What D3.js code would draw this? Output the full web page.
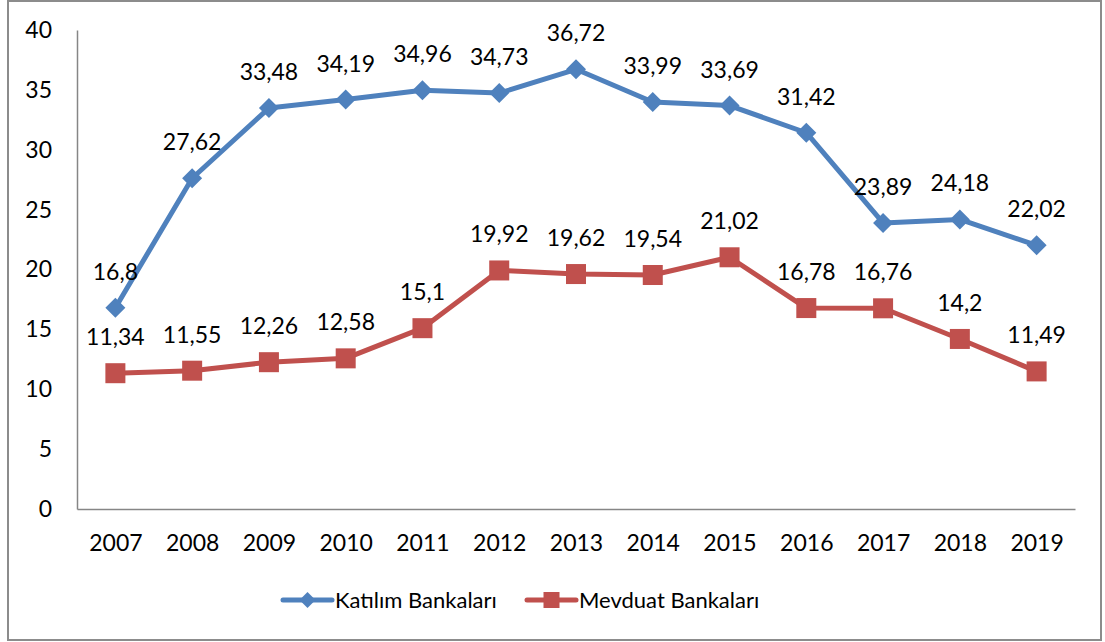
<!DOCTYPE html>
<html>
<head>
<meta charset="utf-8">
<script src="https://cdn.jsdelivr.net/npm/d3@7"></script>
<style>
  body { margin: 0; background: #fff; }
  text { font-family: Lato, "Open Sans", sans-serif; fill: #000; }
</style>
</head>
<body>
<div id="chart"></div>
<script>
// data
var years = ["2007","2008","2009","2010","2011","2012","2013","2014","2015","2016","2017","2018","2019"];
var katilim = [16.8, 27.62, 33.48, 34.19, 34.96, 34.73, 36.72, 33.99, 33.69, 31.42, 23.89, 24.18, 22.02];
var mevduat = [11.34, 11.55, 12.26, 12.58, 15.1, 19.92, 19.62, 19.54, 21.02, 16.78, 16.76, 14.2, 11.49];
var yTicks = [0, 5, 10, 15, 20, 25, 30, 35, 40];
var seriesNames = ["Katılım Bankaları", "Mevduat Bankaları"];

var W = 1105, H = 642;
var margin = {top: 30, right: 30, bottom: 133, left: 77},
    width = 1075 - margin.left,
    height = 509 - margin.top;

var svg = d3.select("#chart")
  .append("svg")
    .attr("width", W)
    .attr("height", H);

// outer frame
svg.append("rect")
    .attr("x", 8)
    .attr("y", 1)
    .attr("width", 1093)
    .attr("height", 639)
    .attr("fill", "none")
    .attr("stroke", "#8c8c8c")
    .attr("stroke-width", 2);

var chartGroup = svg.append("g")
    .attr("transform", "translate(" + margin.left + "," + margin.top + ")");

var x = d3.scalePoint()
    .domain(years)
    .range([0, width])
    .padding(0.5);

var y = d3.scaleLinear()
    .domain([0, 40])
    .range([height, 0]);

// y axis
var yAxis = chartGroup.append("g")
    .call(d3.axisLeft(y).tickValues(yTicks).tickSize(0).tickPadding(25));
yAxis.select(".domain").attr("stroke", "#868686").attr("stroke-width", 1.5);
yAxis.selectAll("text")
    .attr("font-size", "23px")
    .attr("font-family", "Lato, 'Open Sans', sans-serif")
    .attr("fill", "#000");

// x axis
var xAxis = chartGroup.append("g")
    .attr("transform", "translate(0," + height + ")")
    .call(d3.axisBottom(x).tickSize(0).tickPadding(26));
xAxis.select(".domain").attr("stroke", "#868686").attr("stroke-width", 1.5);
xAxis.selectAll("text")
    .attr("font-size", "23px")
    .attr("font-family", "Lato, 'Open Sans', sans-serif")
    .attr("fill", "#000");

var fmt = function(v) { return String(v).replace(".", ","); };

var line = d3.line()
    .x(function(d, i) { return x(years[i]); })
    .y(function(d) { return y(d); });

var series = [
  {name: seriesNames[0], values: katilim, color: "#4F81BD", shape: "diamond"},
  {name: seriesNames[1], values: mevduat, color: "#C0504D", shape: "square"}
];

function marker(g, shape, color) {
  if (shape === "diamond") {
    g.append("path")
      .attr("d", "M0,-10L10,0L0,10L-10,0Z")
      .attr("fill", color);
  } else {
    g.append("rect")
      .attr("x", -10).attr("y", -10)
      .attr("width", 20).attr("height", 20)
      .attr("fill", color);
  }
}

series.forEach(function(s) {
  chartGroup.append("path")
    .datum(s.values)
    .attr("d", line)
    .attr("fill", "none")
    .attr("stroke", s.color)
    .attr("stroke-width", 5)
    .attr("stroke-linejoin", "round");

  s.values.forEach(function(v, i) {
    var g = chartGroup.append("g")
      .attr("transform", "translate(" + x(years[i]) + "," + y(v) + ")");
    marker(g, s.shape, s.color);
  });

  chartGroup.selectAll(null)
    .data(s.values)
    .enter()
    .append("text")
      .attr("x", function(d, i) { return x(years[i]); })
      .attr("y", function(d) { return y(d) - 28; })
      .attr("text-anchor", "middle")
      .attr("font-size", "23px")
      .text(fmt);
});

// legend
var legend = svg.append("g").attr("transform", "translate(0,600)");
var legendX = [283, 527];
series.forEach(function(s, i) {
  var lg = legend.append("g").attr("transform", "translate(" + legendX[i] + ",0)");
  lg.append("line")
    .attr("x1", 0).attr("x2", 49)
    .attr("stroke", s.color)
    .attr("stroke-width", 5)
    .attr("stroke-linecap", "round");
  var m = lg.append("g").attr("transform", "translate(24.5,0)");
  if (s.shape === "diamond") {
    m.append("path").attr("d", "M0,-8L8,0L0,8L-8,0Z").attr("fill", s.color);
  } else {
    m.append("rect").attr("x", -8).attr("y", -8).attr("width", 16).attr("height", 16).attr("fill", s.color);
  }
  lg.append("text")
    .attr("x", 52)
    .attr("y", 8)
    .attr("font-size", "22px")
    .text(s.name);
});
</script>
</body>
</html>
